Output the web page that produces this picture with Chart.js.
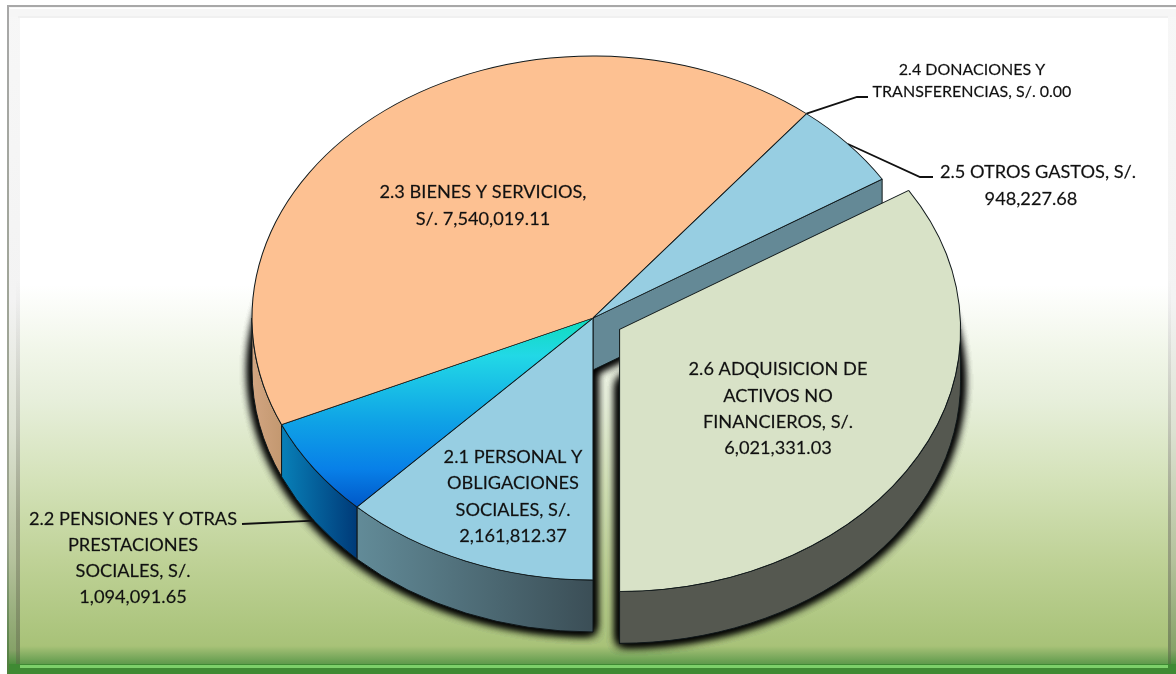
<!DOCTYPE html>
<html>
<head>
<meta charset="utf-8">
<title>Gastos</title>
<script src="https://cdn.jsdelivr.net/npm/chart.js@4"></script>
<style>
  html, body { margin: 0; padding: 0; background: #fff; }
  canvas { display: block; }
</style>
</head>
<body>
<canvas id="pie" width="1176" height="674"></canvas>
<script>
const categories = ['2.1 PERSONAL Y OBLIGACIONES SOCIALES', '2.2 PENSIONES Y OTRAS PRESTACIONES SOCIALES',
    '2.3 BIENES Y SERVICIOS', '2.4 DONACIONES Y TRANSFERENCIAS', '2.5 OTROS GASTOS', '2.6 ADQUISICION DE ACTIVOS NO FINANCIEROS'];
const amounts = [2161812.37, 1094091.65, 7540019.11, 0, 948227.68, 6021331.03];
const labelLines = [
    ['2.1 PERSONAL Y', 'OBLIGACIONES', 'SOCIALES, S/.', '2,161,812.37'],
    ['2.2 PENSIONES Y OTRAS', 'PRESTACIONES', 'SOCIALES, S/.', '1,094,091.65'],
    ['2.3 BIENES Y SERVICIOS,', 'S/. 7,540,019.11'],
    ['2.4 DONACIONES Y', 'TRANSFERENCIAS, S/. 0.00'],
    ['2.5 OTROS GASTOS, S/.', '948,227.68'],
    ['2.6 ADQUISICION DE', 'ACTIVOS NO', 'FINANCIEROS, S/.', '6,021,331.03']
];

// styles and placement, kept apart from the values
const sliceColors = ['#97cee2', null, '#fdc192', '#97cee2', '#97cee2', '#d8e2c7'];
const wallColors = [['#628b98', '#3b4e56'], ['#0880b8', '#003a78'], ['#d2a581', '#c39870'], null, ['#648996', '#648996'], ['#555850', '#555850']];
const labelX = [[513, 513, 513, 513], [133, 133, 133, 133], [483, 483], [972, 972], [1038, 1031], [778, 778, 778, 778]];
const labelY = [[457, 483, 510, 536], [519, 545, 571, 597], [192, 219], [70, 92], [172, 199], [369, 396, 422, 448]];
const labelSize = [18.2, 18.2, 18.2, 16, 18.2, 18.2];
const leaders = [
    { slice: 1, atBase: true, useMid: true, pts: [[242, 524]] },
    { slice: 3, atBase: false, useMid: false, pts: [[857, 97], [868, 97]] },
    { slice: 4, atBase: false, useMid: true, pts: [[920, 177], [933, 177]] }
];

const CX = 593, CY = 318;      // centre of the pie on the page
const RX = 341, RY = 262;      // tilted radius
const DEPTH = 52;
const EXPLODE = 30;            // how far 2.6 is pulled out

function geom(chart) {
    const arcs = chart.getDatasetMeta(0).data;
    const R = arcs[0].outerRadius;
    return { arcs, cx: arcs[0].x, cy: arcs[0].y, sx: RX / R, sy: RY / R };
}

function backgroundFrame(ctx, w, h) {
    ctx.fillStyle = '#fff';
    ctx.fillRect(0, 0, w, h);

    let g = ctx.createLinearGradient(0, 0, 0, h);
    const stop = (y, c) => g.addColorStop(y / h, c);
    stop(285, '#ffffff'); stop(350, '#f1f6e9'); stop(400, '#e7efdb'); stop(480, '#d4e2b9');
    stop(560, '#bfd297'); stop(646, '#a8c278'); stop(664, '#5f9a4c');
    ctx.fillStyle = g;
    ctx.fillRect(20, 17, w - 20, h - 17);

    // bevel, left and right
    g = ctx.createLinearGradient(0, 0, 0, h);
    const bev = (y, c) => g.addColorStop(y / h, c);
    bev(0, '#f7f7f7'); bev(300, '#f3f3f3'); bev(430, '#dde2d2'); bev(560, '#b5c29c'); bev(650, '#86a268'); bev(668, '#3f8a33');
    ctx.fillStyle = g;
    ctx.fillRect(8, 6, 12, h - 6);
    ctx.fillRect(1168, 6, 8, h - 6);

    // darker inner lip of the bevel, fading in going down
    g = ctx.createLinearGradient(0, 280, 0, 520);
    g.addColorStop(0, 'rgba(90,90,90,0)');
    g.addColorStop(1, 'rgba(90,90,70,0.35)');
    ctx.fillStyle = g;
    ctx.fillRect(16, 280, 4, h - 280);
    ctx.fillRect(1168, 280, 3, h - 280);

    // top edge
    ctx.fillStyle = '#f6f6f6';
    ctx.fillRect(8, 7, w - 8, 10);
    ctx.fillStyle = '#f0f0f0';
    ctx.fillRect(18, 16, w - 26, 2);
    ctx.fillStyle = '#ffffff';
    ctx.fillRect(10, 8, w - 10, 1);

    // grey outline
    let line = ctx.createLinearGradient(0, 0, 0, h);
    line.addColorStop(0, '#a8a8a8');
    line.addColorStop(0.8, '#9aa38c');
    line.addColorStop(1, '#4d7d3a');
    ctx.fillStyle = line;
    ctx.fillRect(7, 5, 2, h - 5);
    ctx.fillStyle = '#a8a8a8';
    ctx.fillRect(7, 5, w - 7, 2);

    // bottom strip
    ctx.fillStyle = '#3f8a33';
    ctx.fillRect(9, 664, w - 9, 10);
    ctx.fillStyle = '#7dd06a';
    ctx.fillRect(20, 665, 1148, 3);
}

function sectorAtBase(ctx, x, y, start, end) {
    ctx.beginPath();
    ctx.moveTo(x, y + DEPTH);
    ctx.ellipse(x, y + DEPTH, RX, RY, 0, start, end);
    ctx.closePath();
}

function drawWalls(ctx, g, group) {
    const first = g.arcs[group[0]], last = g.arcs[group[group.length - 1]];
    const ax = CX + (first.x - g.cx) * g.sx, ay = CY + (first.y - g.cy) * g.sy;

    // dark glow round the foot of the pie
    ctx.save();
    ctx.shadowColor = '#000';
    ctx.shadowBlur = 11;
    ctx.fillStyle = '#000';
    for (let n = 0; n < 5; n++) {
        sectorAtBase(ctx, ax, ay, first.startAngle, last.endAngle);
        ctx.fill();
    }
    ctx.restore();

    ctx.strokeStyle = '#10181a';
    ctx.lineWidth = 1;

    // face left open where a slice was pulled out
    if (group.length > 1) {
        const colors = wallColors[group[group.length - 1]];
        const rimX = ax + RX * Math.cos(last.endAngle), rimY = ay + RY * Math.sin(last.endAngle);
        ctx.beginPath();
        ctx.moveTo(ax, ay);
        ctx.lineTo(rimX, rimY);
        ctx.lineTo(rimX, rimY + DEPTH);
        ctx.lineTo(ax, ay + DEPTH);
        ctx.closePath();
        ctx.fillStyle = colors[0];
        ctx.fill();
        ctx.stroke();
    }

    group.forEach(i => {
        const arc = g.arcs[i];
        if (!wallColors[i] || arc.circumference === 0) return;
        for (let k = 0; k < 2; k++) {
            const t1 = Math.max(arc.startAngle, k * 2 * Math.PI);
            const t2 = Math.min(arc.endAngle, k * 2 * Math.PI + Math.PI);
            if (t2 <= t1) continue;
            const x1 = ax + RX * Math.cos(t1), x2 = ax + RX * Math.cos(t2);
            const grad = ctx.createLinearGradient(Math.min(x1, x2), 0, Math.max(x1, x2), 0);
            grad.addColorStop(0, wallColors[i][0]);
            grad.addColorStop(1, wallColors[i][1]);
            ctx.beginPath();
            ctx.ellipse(ax, ay, RX, RY, 0, t1, t2);
            ctx.ellipse(ax, ay + DEPTH, RX, RY, 0, t2, t1, true);
            ctx.closePath();
            ctx.fillStyle = grad;
            ctx.fill();
            ctx.stroke();
        }
    });
}

function drawLeaders(ctx, g) {
    ctx.strokeStyle = '#111';
    ctx.lineWidth = 1.8;
    leaders.forEach(l => {
        const arc = g.arcs[l.slice];
        const t = l.useMid ? (arc.startAngle + arc.endAngle) / 2 : arc.startAngle;
        const px = CX + RX * Math.cos(t);
        const py = CY + RY * Math.sin(t) + (l.atBase ? DEPTH : 0);
        ctx.beginPath();
        ctx.moveTo(px, py);
        l.pts.forEach(p => ctx.lineTo(p[0], p[1]));
        ctx.stroke();
    });
}

function drawLabels(ctx) {
    ctx.fillStyle = '#111';
    ctx.strokeStyle = 'rgba(17,17,17,0.6)';
    ctx.lineWidth = 0.3;
    ctx.textAlign = 'center';
    ctx.textBaseline = 'middle';
    labelLines.forEach((lines, i) => {
        ctx.font = labelSize[i] + 'px Lato';
        lines.forEach((text, j) => {
            ctx.fillText(text, labelX[i][j], labelY[i][j]);
            ctx.strokeText(text, labelX[i][j], labelY[i][j]);
        });
    });
}

const tiltedPie = {
    id: 'tiltedPie',
    afterDatasetsUpdate(chart) {
        const arcs = chart.getDatasetMeta(0).data;
        const arc = arcs[5];
        const mid = (arc.startAngle + arc.endAngle) / 2;
        arc.x += Math.cos(mid) * EXPLODE;
        arc.y += Math.sin(mid) * EXPLODE;
    },
    beforeDraw(chart) {
        backgroundFrame(chart.ctx, chart.width, chart.height);
    },
    beforeDatasetsDraw(chart) {
        const ctx = chart.ctx, g = geom(chart);
        drawWalls(ctx, g, [0, 1, 2, 3, 4]);
        drawWalls(ctx, g, [5]);
        drawLeaders(ctx, g);
        ctx.save();
        ctx.translate(CX, CY);
        ctx.scale(g.sx, g.sy);
        ctx.translate(-g.cx, -g.cy);
    },
    afterDatasetsDraw(chart) {
        chart.ctx.restore();
        drawLabels(chart.ctx);
    }
};

function sliceFill(context) {
    const i = context.dataIndex;
    if (sliceColors[i]) return sliceColors[i];
    const chart = context.chart, area = chart.chartArea;
    if (!area || !area.height) return '#0a8ce6';
    const cy = (area.top + area.bottom) / 2;
    const R = Math.min(area.width, area.height) / 2;
    const grad = chart.ctx.createLinearGradient(0, cy, 0, cy + R * 0.72);
    grad.addColorStop(0, '#0fdcbc');
    grad.addColorStop(0.2, '#22d8e6');
    grad.addColorStop(0.55, '#0fa2e6');
    grad.addColorStop(0.8, '#0880e8');
    grad.addColorStop(1, '#0058c8');
    return grad;
}

new Chart(document.getElementById('pie'), {
    type: 'pie',
    plugins: [tiltedPie],
    data: {
        labels: categories,
        datasets: [{
            data: amounts,
            backgroundColor: sliceFill,
            borderColor: '#10181a',
            borderWidth: 1,
            clip: false
        }]
    },
    options: {
        responsive: false,
        animation: false,
        rotation: 180,
        events: [],
        plugins: { legend: { display: false }, tooltip: { enabled: false } }
    }
});
</script>
</body>
</html>
